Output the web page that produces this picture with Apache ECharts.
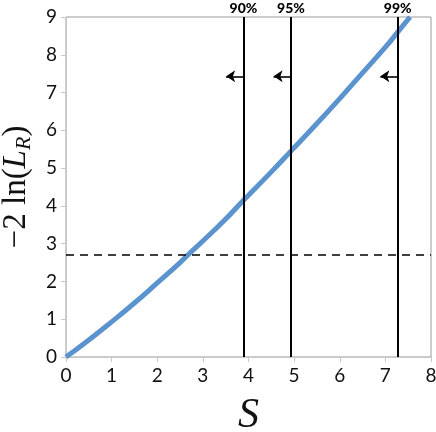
<!DOCTYPE html>
<html>
<head>
<meta charset="utf-8">
<script src="https://cdn.jsdelivr.net/npm/echarts@6/dist/echarts.min.js"></script>
<style>html,body{margin:0;padding:0;background:#fff}#c{width:436px;height:432px}</style>
</head>
<body>
<div id="c"></div>
<script>
// Curve points
const curveS = [0, 0.5, 1, 1.5, 2, 2.5, 2.67, 3, 3.5, 3.89, 4, 4.5, 4.93, 5, 5.5, 6, 6.5, 7, 7.27, 7.54];
const curveY = [0, 0.45, 0.93, 1.43, 1.96, 2.5, 2.7, 3.07, 3.65, 4.15, 4.28, 4.9, 5.45, 5.54, 6.18, 6.84, 7.52, 8.2, 8.6, 9.0];
// Confidence limits
const limitLabels = ['90%', '95%', '99%'];
const limitS = [3.89, 4.93, 7.27];
const thresholdY = 2.71;
const arrowY = 7.43;
const arrowLen = 0.38;
const xTicks = [0, 1, 2, 3, 4, 5, 6, 7, 8];
const yTicks = [0, 1, 2, 3, 4, 5, 6, 7, 8, 9];

const chart = echarts.init(document.getElementById('c'));
const tickFont = {fontFamily: 'Lato', fontSize: 19, color: '#111'};

const vLines = limitS.map((s, i) => [
  {coord: [s, 0], symbol: 'none'},
  {coord: [s, yTicks[yTicks.length - 1]], symbol: 'none',
   label: {show: true, formatter: limitLabels[i]}}
]);
const arrows = limitS.map(s => [
  {coord: [s, arrowY], symbol: 'none'},
  {coord: [s - arrowLen, arrowY], symbol: 'arrow'}
]);

chart.setOption({
  animation: false,
  grid: {left: 66, right: 5, top: 17, bottom: 75, show: true, borderColor: '#9a9a9a', borderWidth: 1, outerBoundsMode: 'none', containLabel: false},
  xAxis: {
    type: 'value', min: xTicks[0], max: xTicks[xTicks.length - 1], interval: 1,
    name: 'S', nameLocation: 'middle', nameGap: 38,
    nameTextStyle: {fontFamily: 'Liberation Serif', fontStyle: 'italic', fontSize: 42, color: '#111'},
    axisLine: {show: true, lineStyle: {color: '#c8c8c8', width: 1}},
    axisTick: {show: true, length: 5, lineStyle: {color: '#c8c8c8'}},
    axisLabel: Object.assign({margin: 9}, tickFont),
    splitLine: {show: false}
  },
  yAxis: {
    type: 'value', min: yTicks[0], max: yTicks[yTicks.length - 1], interval: 1,
    name: '{a|−2 ln(}{i|L}{s|R}{a|)}', nameLocation: 'middle', nameGap: 29, nameRotate: 90,
    nameTextStyle: {
      rich: {
        a: {fontFamily: 'Liberation Serif', fontSize: 33, color: '#111'},
        i: {fontFamily: 'Liberation Serif', fontStyle: 'italic', fontSize: 33, color: '#111'},
        s: {fontFamily: 'Liberation Serif', fontStyle: 'italic', fontSize: 22, color: '#111', verticalAlign: 'bottom', padding: [15, 0, 0, 0]}
      }
    },
    axisLine: {show: true, lineStyle: {color: '#c8c8c8', width: 1}},
    axisTick: {show: true, length: 5, lineStyle: {color: '#c8c8c8'}},
    axisLabel: Object.assign({margin: 9}, tickFont),
    splitLine: {show: false}
  },
  series: [
    {
      type: 'line', data: curveS.map((s, i) => [s, curveY[i]]),
      smooth: true, symbol: 'none', clip: true, z: 3,
      lineStyle: {color: '#5b93cf', width: 5}
    },
    {
      type: 'line', data: [], silent: true,
      markLine: {
        silent: true, symbol: 'none', animation: false,
        lineStyle: {color: '#000', width: 2, type: 'solid'},
        label: {position: 'end', distance: 2, fontFamily: 'Lato', fontWeight: 900, fontSize: 14, color: '#000'},
        data: vLines.concat([[{coord: [xTicks[0], thresholdY], symbol: 'none'}, {coord: [xTicks[xTicks.length - 1], thresholdY], symbol: 'none', lineStyle: {type: [8, 6], width: 1.6}}]])
      }
    },
    {
      type: 'line', data: [], silent: true,
      markLine: {
        silent: true, animation: false, symbolSize: [9, 9],
        lineStyle: {color: '#000', width: 1.6, type: 'solid'},
        label: {show: false},
        data: arrows
      }
    }
  ]
});
</script>
</body>
</html>
